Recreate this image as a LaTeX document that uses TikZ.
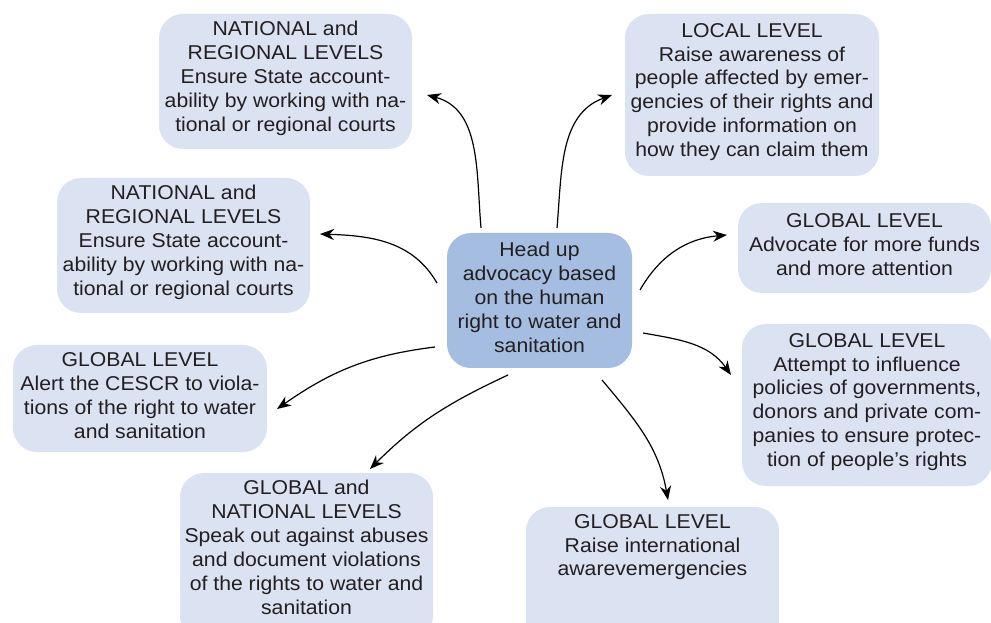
\documentclass[tikz,border=0pt]{standalone}
\usepackage{fontspec}
\setmainfont[FakeStretch=1.06]{Liberation Sans}
\usetikzlibrary{arrows.meta}
\definecolor{boxc}{RGB}{219,226,242}
\definecolor{midc}{RGB}{165,189,224}
\definecolor{txt}{RGB}{35,31,32}
\tikzset{
  box/.style={rectangle, rounded corners=24pt, fill=boxc, inner sep=0pt},
  midbox/.style={box, fill=midc},
  lbl/.style={inner sep=0pt, align=center, text=txt, font=\fs},
  arr/.style={line width=1.2pt, -{Stealth[length=14pt,width=11pt,inset=4.5pt]}}
}
\newcommand{\fs}{\fontsize{20}{23.9}\selectfont}
\begin{document}
\begin{tikzpicture}[x=1pt,y=1pt]
\useasboundingbox (0,0) rectangle (991,622);
\clip (0,0) rectangle (991,622);
% boxes
\node[midbox, minimum width=185pt, minimum height=135pt] (mid) at (539.5,321.5) {};
\node[box, minimum width=253pt, minimum height=135pt] (A) at (285.5,540.5) {};
\node[box, minimum width=253pt, minimum height=135pt] (B) at (183.5,376.5) {};
\node[box, minimum width=254pt, minimum height=107pt] (C) at (140,223.5) {};
\node[box, minimum width=253pt, minimum height=167pt] (D) at (306.5,65.5) {};
\node[box, minimum width=253pt, minimum height=143pt] (E) at (652.5,43.5) {};
\node[box, minimum width=250pt, minimum height=162pt] (F) at (867,217) {};
\node[box, minimum width=253pt, minimum height=90pt] (G) at (864.5,374) {};
\node[box, minimum width=254pt, minimum height=162pt] (H) at (752,527) {};
% texts
\node[lbl] (midt) at ([yshift=3pt]mid.center)
  {Head up\\advocacy based\\on the human\\right to water and\\sanitation};
\node[lbl] (At) at ([yshift=3pt]A.center)
  {NATIONAL and\\REGIONAL LEVELS\\Ensure State account-\\ability by working with na-\\tional or regional courts};
\node[lbl] (Bt) at ([yshift=3pt]B.center)
  {NATIONAL and\\REGIONAL LEVELS\\Ensure State account-\\ability by working with na-\\tional or regional courts};
\node[lbl] (Ct) at ([yshift=3pt]C.center)
  {GLOBAL LEVEL\\Alert the CESCR to viola-\\tions of the right to water\\and sanitation};
\node[lbl, anchor=north] (Dt) at (306.5,142)
  {GLOBAL and\\NATIONAL LEVELS\\Speak out against abuses\\and document violations\\of the rights to water and\\sanitation};
\node[lbl, anchor=north] (Et) at (652.5,108)
  {GLOBAL LEVEL\\Raise international\\awarevemergencies};
\node[lbl] (Ft) at ([yshift=3pt]F.center)
  {GLOBAL LEVEL\\Attempt to influence\\policies of governments,\\donors and private com-\\panies to ensure protec-\\tion of people’s rights};
\node[lbl] (Gt) at ([yshift=3pt]G.center)
  {GLOBAL LEVEL\\Advocate for more funds\\and more attention};
\node[lbl] (Ht) at ([yshift=3pt]H.center)
  {LOCAL LEVEL\\Raise awareness of\\people affected by emer-\\gencies of their rights and\\provide information on\\how they can claim them};
% connector end points
\coordinate (s1) at (481,394); \coordinate (e1) at (427,527);
\coordinate (s2) at (437,339); \coordinate (e2) at (320,388);
\coordinate (s3) at (557,394); \coordinate (e3) at (612,527);
\coordinate (s4) at (640,332); \coordinate (e4) at (727,387);
\coordinate (s5) at (643,289); \coordinate (e5) at (731,247);
\coordinate (s6) at (602,242); \coordinate (e6) at (668,122);
\coordinate (s7) at (508,247); \coordinate (e7) at (370,153);
\coordinate (s8) at (435,275); \coordinate (e8) at (277,213);
\draw[arr] (s1) to[out=95,in=-15] (e1);
\draw[arr] (s2) to[out=120,in=-2] (e2);
\draw[arr] (s3) to[out=85,in=200] (e3);
\draw[arr] (s4) to[out=60,in=185] (e4);
\draw[arr] (s5) to[out=-10,in=125] (e5);
\draw[arr] (s6) to[out=-50,in=100] (e6);
\draw[arr] (s7) to[out=205,in=45] (e7);
\draw[arr] (s8) to[out=187,in=35] (e8);
\end{tikzpicture}
\end{document}
